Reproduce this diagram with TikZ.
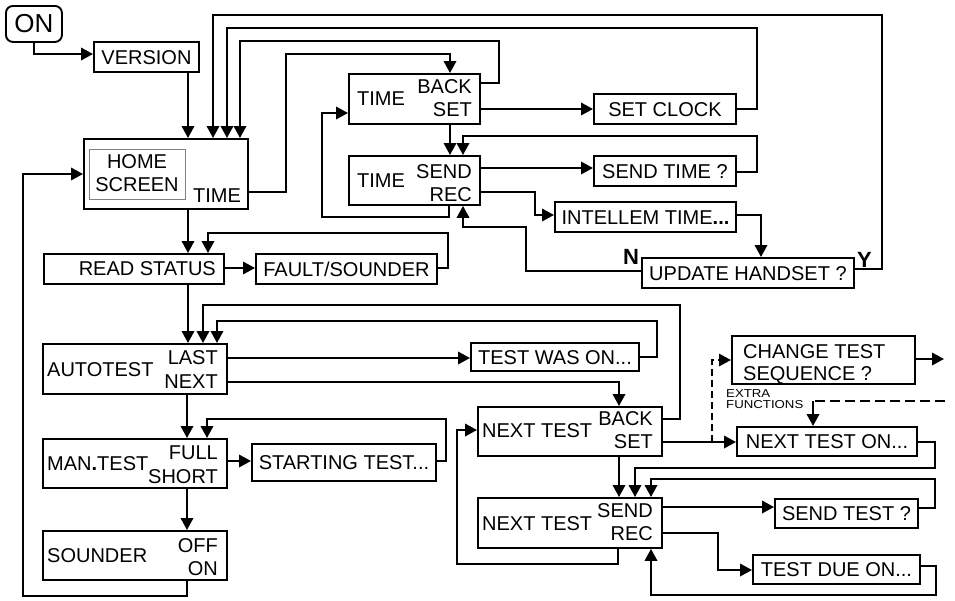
\documentclass[tikz,border=0pt]{standalone}
\usepackage{fontspec}
\usepackage{graphicx}
\setmainfont{Liberation Sans}
\usetikzlibrary{arrows.meta}
\begin{document}
\begin{tikzpicture}[x=1pt,y=-1pt,
  box/.style={draw, line width=1.9pt, inner sep=0pt, anchor=north west},
  sbox/.style={box, font=\fontsize{20}{22}\selectfont, text height=14.3pt, text depth=0pt},
  txt/.style={inner sep=0pt, font=\fontsize{20}{22}\selectfont},
  smalltxt/.style={inner sep=0pt, anchor=base west, font=\fontsize{11.5}{11.5}\selectfont},
  arr/.style={line width=1.9pt, -{Triangle[length=12pt,width=12.5pt]}},
  dasharr/.style={line width=1.4pt, dash pattern=on 7pt off 4pt, -{Triangle[length=12pt,width=12.5pt]}},
  dashln/.style={line width=2.4pt, dash pattern=on 10pt off 5pt},
]
\useasboundingbox (0,0) rectangle (955,600);

% ---------- boxes ----------
\node[box, rounded corners=7pt, minimum width=56pt, minimum height=36pt] (on) at (5,5) {};
\node[inner sep=0pt, font=\fontsize{26}{26}\selectfont] (ontxt) at (on.center) {ON};

\node[sbox, minimum width=105pt, minimum height=30pt] (ver) at (93,41) {VERSION};

\node[box, minimum width=164pt, minimum height=70pt] (home) at (83,138) {};
\node[draw=gray, line width=0.8pt, anchor=north west, inner sep=0pt, minimum width=96pt, minimum height=50pt] (homein) at (89,149) {};
\node[txt, anchor=base] (hometa) at (137,168) {HOME};
\node[txt, anchor=base] (hometb) at (137,191) {SCREEN};
\node[txt, anchor=base west] (hometime) at (193,202) {TIME};

\node[box, minimum width=131pt, minimum height=50pt] (tbs) at (348,73) {};
\node[txt, anchor=base west] (tbsa) at (357,105) {TIME};
\node[txt, anchor=base east] (tbsb) at (472,93) {BACK};
\node[txt, anchor=base east] (tbsc) at (472,116) {SET};

\node[box, minimum width=131pt, minimum height=49pt] (tsr) at (348,155) {};
\node[txt, anchor=base west] (tsra) at (357,187) {TIME};
\node[txt, anchor=base east] (tsrb) at (472,178) {SEND};
\node[txt, anchor=base east] (tsrc) at (472,201) {REC};

\node[sbox, minimum width=142pt, minimum height=30pt] (clk) at (593,93) {SET CLOCK};
\node[sbox, minimum width=142pt, minimum height=30pt] (sendt) at (593,155) {SEND TIME ?};
\node[sbox, minimum width=181pt, minimum height=30pt] (intl) at (554,201) {INTELLEM TIME\textbf{...}};
\node[sbox, minimum width=212pt, minimum height=30pt] (upd) at (641,257) {UPDATE HANDSET ?};
\node[inner sep=0pt, anchor=base west, font=\fontsize{22}{22}\selectfont\bfseries] (nlab) at (623,264) {N};
\node[inner sep=0pt, anchor=base west, font=\fontsize{22}{22}\selectfont\bfseries] (ylab) at (857,267) {Y};

\node[box, minimum width=180pt, minimum height=30pt] (read) at (43,253) {};
\node[txt, anchor=base east] (readt) at (216,275) {READ STATUS};
\node[sbox, minimum width=181pt, minimum height=30pt] (fault) at (255,253) {FAULT/SOUNDER};

\node[box, minimum width=184pt, minimum height=50pt] (auto) at (42,343) {};
\node[txt, anchor=base west] (autoa) at (47,376) {AUTOTEST};
\node[txt, anchor=base east] (autob) at (218,364) {LAST};
\node[txt, anchor=base east] (autoc) at (218,388) {NEXT};

\node[box, minimum width=184pt, minimum height=49pt] (man) at (42,438) {};
\node[txt, anchor=base west] (mana) at (47,470) {MAN\textbf{.}TEST};
\node[txt, anchor=base east] (manb) at (218,459) {FULL};
\node[txt, anchor=base east] (manc) at (218,483) {SHORT};

\node[box, minimum width=184pt, minimum height=49pt] (snd) at (42,530) {};
\node[txt, anchor=base west] (snda) at (47,562) {SOUNDER};
\node[txt, anchor=base east] (sndb) at (218,552) {OFF};
\node[txt, anchor=base east] (sndc) at (218,575) {ON};

\node[sbox, minimum width=184pt, minimum height=37pt] (start) at (251,443) {STARTING TEST...};
\node[sbox, minimum width=168pt, minimum height=28pt] (twas) at (470,342) {TEST WAS ON...};

\node[box, minimum width=184pt, minimum height=49pt] (ntb) at (477,406) {};
\node[txt, anchor=base west] (ntba) at (482,437) {NEXT TEST};
\node[txt, anchor=base east] (ntbb) at (653,425) {BACK};
\node[txt, anchor=base east] (ntbc) at (653,448) {SET};

\node[box, minimum width=184pt, minimum height=50pt] (nts) at (477,497) {};
\node[txt, anchor=base west] (ntsa) at (482,530) {NEXT TEST};
\node[txt, anchor=base east] (ntsb) at (653,517) {SEND};
\node[txt, anchor=base east] (ntsc) at (653,540) {REC};

\node[box, minimum width=183pt, minimum height=48pt] (chg) at (731,335) {};
\node[txt, anchor=base west] (chga) at (743,358) {CHANGE TEST};
\node[txt, anchor=base west] (chgb) at (743,380) {SEQUENCE ?};

\node[smalltxt] (extraa) at (726,397) {\scalebox{1.15}[1]{EXTRA}};
\node[smalltxt] (extrab) at (726,408.5) {\scalebox{1.15}[1]{FUNCTIONS}};

\node[sbox, minimum width=180pt, minimum height=29pt] (nton) at (736,426) {NEXT TEST ON...};
\node[sbox, minimum width=143pt, minimum height=29pt] (sendtest) at (774,498) {SEND TEST ?};
\node[sbox, minimum width=167pt, minimum height=29pt] (due) at (752,554) {TEST DUE ON...};

\coordinate (split) at (712,442);
\coordinate (chgout) at (944,359);
\coordinate (extra) at (945,401);
\coordinate (extrac) at (813,401);

% ---------- connectors ----------
\draw[arr] (on.south) |- (ver.west |- 0,54);
\draw[arr] (ver.south -| 188,0) -- (home.north -| 188,0);
\draw[arr] (upd.east |- 0,269) -- (882,269) -- (882,15) -| (home.north -| 213,0);
\draw[arr] (clk.east |- 0,109) -- (757,109) -- (757,28) -| (home.north -| 227,0);
\draw[arr] (tbs.east |- 0,83) -- (499,83) -- (499,41) -| (home.north -| 240,0);
\draw[arr] (home.east |- 0,192) -- (286,192) -- (286,54) -| (tbs.north -| 450,0);
\draw[arr] (tbs.east |- 0,109) -- (clk.west |- 0,109);
\draw[arr] (tbs.south -| 450,0) -- (tsr.north -| 450,0);
\draw[arr] (sendt.east |- 0,172) -- (757,172) -- (757,136) -| (tsr.north -| 463,0);
\draw[arr] (tsr.east |- 0,168) -- (sendt.west |- 0,168);
\draw[arr] (tsr.east |- 0,192) -- (535,192) |- (intl.west |- 0,215);
\draw[arr] (intl.east |- 0,215) -| (upd.north -| 761,0);
\draw[arr] (upd.west |- 0,271) -- (526,271) -- (526,227) -| (tsr.south -| 463,0);
\draw[arr] (tsr.south -| 449,0) -- (449,217) -- (322,217) |- (tbs.west |- 0,113);

\draw[arr] (home.south -| 188,0) -- (read.north -| 188,0);
\draw[arr] (read.east |- 0,268) -- (fault.west |- 0,268);
\draw[arr] (fault.east |- 0,268) -- (448,268) -- (448,233) -| (read.north -| 208,0);
\draw[arr] (read.south -| 188,0) -- (auto.north -| 188,0);
\draw[arr] (ntb.east |- 0,419) -- (680,419) -- (680,305) -| (auto.north -| 203,0);
\draw[arr] (twas.east |- 0,357) -- (657,357) -- (657,321) -| (auto.north -| 217,0);
\draw[arr] (auto.east |- 0,358) -- (twas.west |- 0,358);
\draw[arr] (auto.east |- 0,382) -| (ntb.north -| 619,0);
\draw[arr] (auto.south -| 187,0) -- (man.north -| 187,0);
\draw[arr] (man.east |- 0,461) -- (start.west |- 0,461);
\draw[arr] (start.east |- 0,461) -- (446,461) -- (446,419) -| (man.north -| 207,0);
\draw[arr] (man.south -| 187,0) -- (snd.north -| 187,0);
\draw[arr] (snd.south -| 187,0) -- (187,596) -- (23,596) |- (home.west |- 0,174);

\draw[arr] (nts.south -| 618,0) -- (618,564) -- (457,564) |- (ntb.west |- 0,430);
\draw[arr] (ntb.south -| 619,0) -- (nts.north -| 619,0);
\draw[arr] (ntb.east |- 0,442) -- (nton.west |- 0,442);
\draw[dasharr] (split) |- (chg.west |- 0,360);
\draw[arr] (chg.east |- 0,359) -- (chgout);
\draw[dashln] (extra) -- (extrac);
\draw[arr] (extrac) -- (nton.north -| 813,0);
\draw[arr] (nton.east |- 0,442) -- (935,442) -- (935,468) -| (nts.north -| 635,0);
\draw[arr] (sendtest.east |- 0,508) -- (935,508) -- (935,479) -| (nts.north -| 651,0);
\draw[arr] (nts.east |- 0,507) -- (sendtest.west |- 0,507);
\draw[arr] (nts.east |- 0,533) -- (718,533) |- (due.west |- 0,570);
\draw[arr] (due.east |- 0,566) -- (936,566) -- (936,595) -| (nts.south -| 651,0);
\end{tikzpicture}
\end{document}
